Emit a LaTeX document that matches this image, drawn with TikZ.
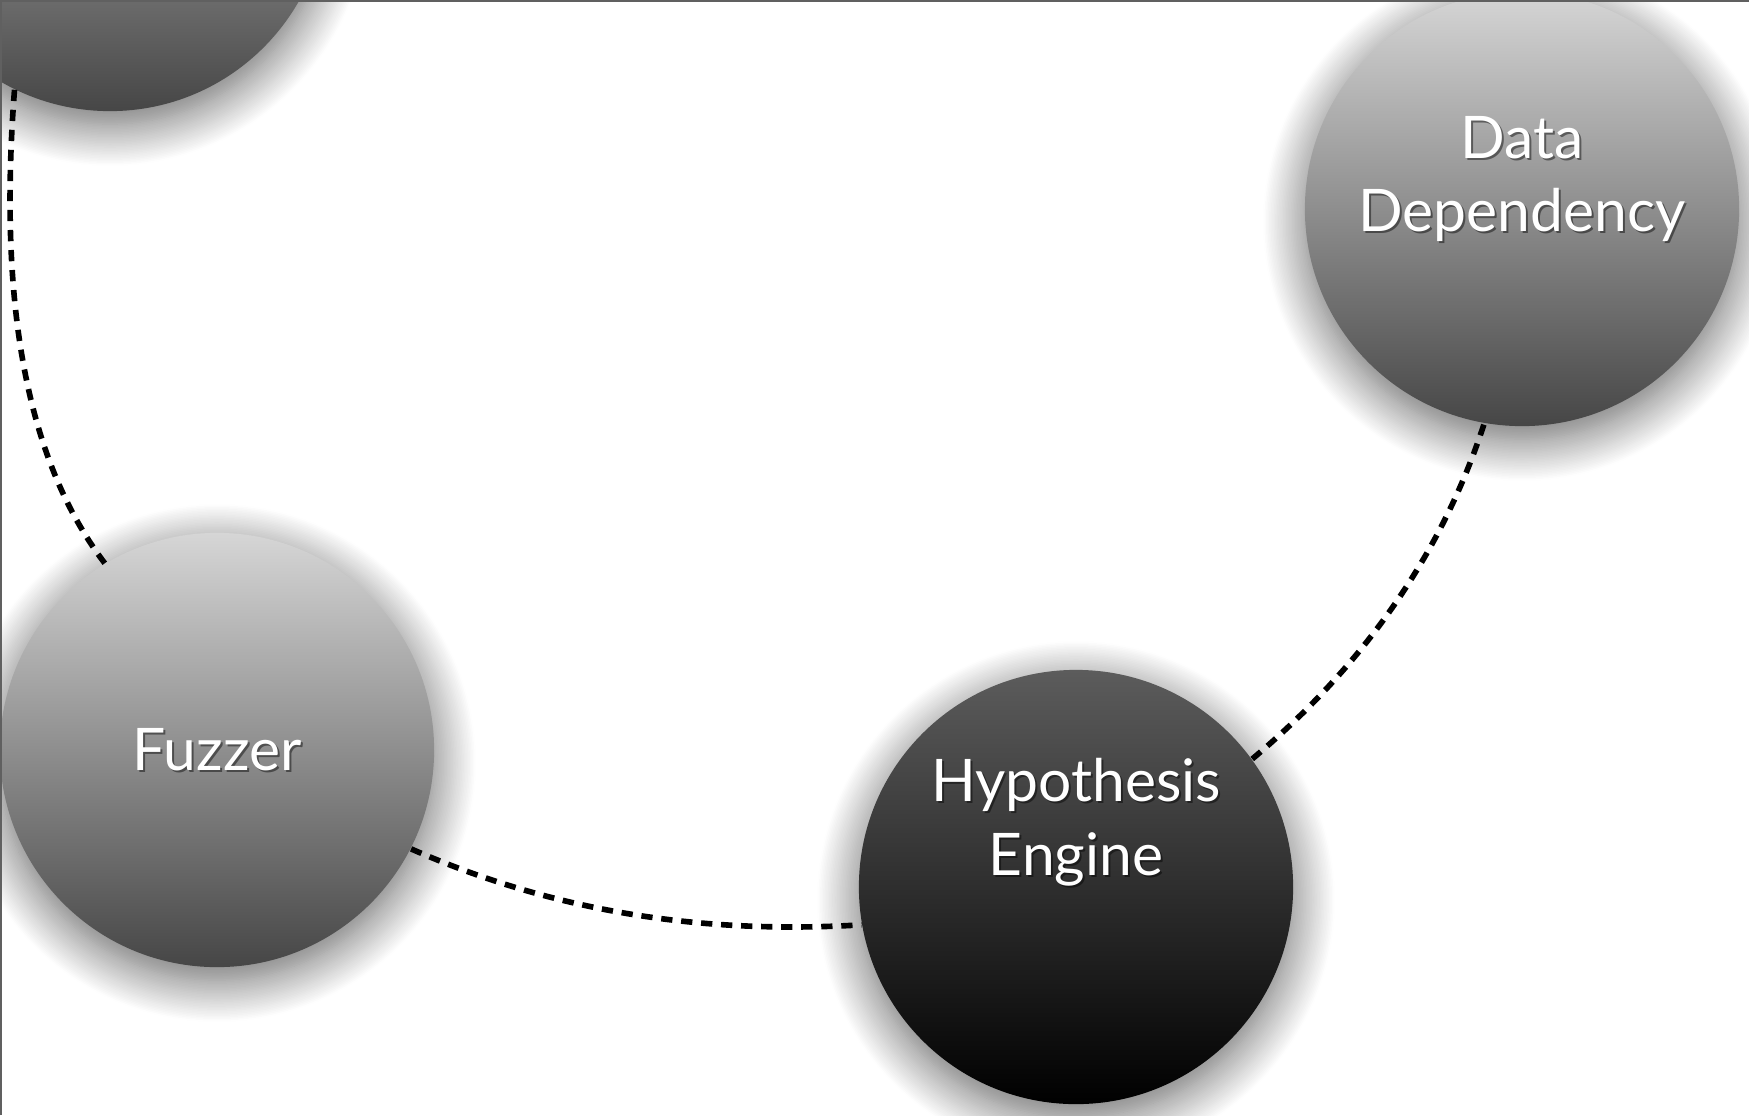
\documentclass[tikz,border=0pt]{standalone}
\usepackage{fontspec}
\setmainfont{Lato}
\usetikzlibrary{shadows.blur,calc}

\definecolor{bubbletop}{RGB}{214,214,214}
\definecolor{bubblebot}{RGB}{70,70,70}
\definecolor{coretop}{RGB}{92,92,92}
\definecolor{framegray}{RGB}{96,96,96}

\begin{document}
\begin{tikzpicture}[x=0.01cm, y=-0.01cm,
  bubble/.style={circle, minimum size=4.34cm, inner sep=0pt, shading=axis,
    blur shadow={shadow xshift=0cm, shadow yshift=-0.13cm,
                 shadow blur radius=0.42cm, shadow blur steps=28,
                 shadow opacity=62}},
  lightbubble/.style={bubble, top color=bubbletop, bottom color=bubblebot},
  corebubble/.style={bubble, top color=coretop, bottom color=black},
  link/.style={line width=1.6pt, dash pattern=on 3.2pt off 2.5pt},
  bubbletext/.style={font=\fontsize{16.7}{21}\selectfont, align=center,
    inner sep=0pt, text=white},
  textshade/.style={bubbletext, text=black, opacity=0.45},
]
\useasboundingbox (0,0) rectangle (1749,1115);
\clip (0,0) rectangle (1749,1115);

% the four stages of the loop
\node[lightbubble] (top)  at (110,-106) {};
\node[lightbubble] (fuzz) at (217,750)  {};
\node[corebubble]  (hyp)  at (1076,887) {};
\node[lightbubble] (dep)  at (1522,209) {};

% dashed links between neighbouring stages
\draw[link] (top.244) .. controls (-2,305) and (27,461) .. (fuzz.121);
\draw[link] (fuzz.333) .. controls (548,909) and (695,935) .. (hyp.190);
\draw[link] (hyp.36) .. controls (1365,664) and (1442,553) .. (dep.260);

% labels, each with a soft drop shadow
\node[textshade]  (fuzzsh) at ($(fuzz)+(2,2)$)   {Fuzzer};
\node[bubbletext] (fuzzlb) at (fuzz)             {Fuzzer};
\node[textshade]  (hypsh)  at ($(hyp)+(2,-63)$)  {Hypothesis\\Engine};
\node[bubbletext] (hyplb)  at ($(hyp)+(0,-65)$)  {Hypothesis\\Engine};
\node[textshade]  (depsh)  at ($(dep)+(2,-28)$)  {Data\\Dependency};
\node[bubbletext] (deplb)  at ($(dep)+(0,-30)$)  {Data\\Dependency};

% frame along the top and left edges
\draw[framegray, line width=0.02cm] (1,1115) -- (1,1) -- (1749,1);
\end{tikzpicture}
\end{document}
